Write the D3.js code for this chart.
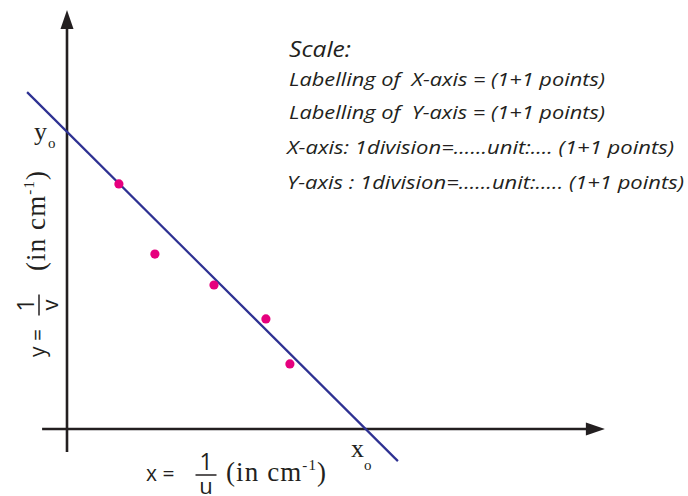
<!DOCTYPE html>
<html>
<head>
<meta charset="utf-8">
<script src="https://cdn.jsdelivr.net/npm/d3@7"></script>
<style>
  body { margin: 0; background: #fff; }
  svg { display: block; }
</style>
</head>
<body>
<div id="chart"></div>
<script>
// plotted readings (arbitrary graph units, 1 unit = 1 division)
var pointX = [1.73, 2.93, 4.90, 6.63, 7.43];
var pointY = [8.17, 5.83, 4.80, 3.67, 2.17];

// best fit straight line, drawn end to end
var fitX = [-1.33, 11.03];
var fitY = [11.23, -1.07];

// extent of the drawn axes
var xAxisExtent = [-0.83, 17.93];
var yAxisExtent = [-0.77, 13.97];

var scaleLines = [
  "Scale:",
  "Labelling of  X-axis = (1+1 points)",
  "Labelling of  Y-axis = (1+1 points)",
  "X-axis: 1division=......unit:.... (1+1 points)",
  "Y-axis : 1division=......unit:..... (1+1 points)"
];

(function() {
  var width = 688,
    height = 496;

  var svg = d3.select("#chart")
    .append("svg")
    .attr("width", width)
    .attr("height", height)

  var x = d3.scaleLinear().domain([0, 10]).range([67, 367])
  var y = d3.scaleLinear().domain([0, 10]).range([429, 129])

  var axisColor = "#231f20"

  // axes with arrow heads
  svg.append("line")
    .attr("x1", x(xAxisExtent[0])).attr("x2", x(xAxisExtent[1]) - 16)
    .attr("y1", y(0)).attr("y2", y(0))
    .attr("stroke", axisColor).attr("stroke-width", 2.6)

  svg.append("line")
    .attr("x1", x(0)).attr("x2", x(0))
    .attr("y1", y(yAxisExtent[0])).attr("y2", y(yAxisExtent[1]) + 16)
    .attr("stroke", axisColor).attr("stroke-width", 2.6)

  var xt = x(xAxisExtent[1]), yt = y(yAxisExtent[1])
  svg.append("path")
    .attr("d", "M" + xt + "," + y(0) + "L" + (xt - 19) + "," + (y(0) - 6.5) + "L" + (xt - 19) + "," + (y(0) + 6.5) + "Z")
    .attr("fill", axisColor)
  svg.append("path")
    .attr("d", "M" + x(0) + "," + yt + "L" + (x(0) - 6.5) + "," + (yt + 19) + "L" + (x(0) + 6.5) + "," + (yt + 19) + "Z")
    .attr("fill", axisColor)

  // fit line
  svg.append("line")
    .attr("x1", x(fitX[0])).attr("y1", y(fitY[0]))
    .attr("x2", x(fitX[1])).attr("y2", y(fitY[1]))
    .attr("stroke", "#2e3192")
    .attr("stroke-width", 2.2)

  // points
  var pts = pointX.map(function(d, i) { return {x: d, y: pointY[i]} })
  svg.selectAll(".pt")
    .data(pts)
    .enter().append("circle")
    .attr("class", "pt")
    .attr("cx", function(d) { return x(d.x) })
    .attr("cy", function(d) { return y(d.y) })
    .attr("r", 4.6)
    .attr("fill", "#e6007e")

  // scale notes
  var noteWidths = [62, 316, 316, 387, 397]
  var noteY = [57, 86, 119, 154, 189]
  svg.selectAll(".note")
    .data(scaleLines)
    .enter().append("text")
    .attr("class", "note")
    .attr("x", function(d, i) { return i < 3 ? 289 : 287 })
    .attr("y", function(d, i) { return noteY[i] })
    .attr("textLength", function(d, i) { return noteWidths[i] })
    .attr("lengthAdjust", "spacingAndGlyphs")
    .attr("font-family", "'Open Sans', sans-serif")
    .attr("font-style", "italic")
    .attr("font-size", function(d, i) { return i == 0 ? 22 : 19 })
    .attr("fill", "#231f20")
    .style("white-space", "pre")
    .text(function(d) { return d })

  var serif = "'Liberation Serif', 'DejaVu Serif', serif"
  var sans = "'Open Sans', sans-serif"

  // intercept labels
  svg.append("text").attr("x", 34).attr("y", 140)
    .attr("font-family", serif).attr("font-size", 26).attr("fill", axisColor).text("y")
  svg.append("text").attr("x", 48).attr("y", 148)
    .attr("font-family", serif).attr("font-size", 15).attr("fill", axisColor).text("o")
  svg.append("text").attr("x", 351).attr("y", 457)
    .attr("font-family", serif).attr("font-size", 26).attr("fill", axisColor).text("x")
  svg.append("text").attr("x", 364).attr("y", 470)
    .attr("font-family", serif).attr("font-size", 15).attr("fill", axisColor).text("o")

  // axis title builder: "v = 1/w (in cm-1)"
  function axisTitle(g, name, denom, fracX, parenX) {
    g.append("text").attr("x", 0).attr("y", 0)
      .attr("font-family", sans).attr("font-size", 21).attr("fill", axisColor)
      .style("white-space", "pre").text(name + " =")
    g.append("text").attr("x", fracX).attr("y", -11)
      .attr("font-family", sans).attr("font-size", 23).attr("fill", axisColor)
      .attr("text-anchor", "middle").text("1")
    g.append("line").attr("x1", fracX - 10.5).attr("x2", fracX + 10.5).attr("y1", -6).attr("y2", -6)
      .attr("stroke", axisColor).attr("stroke-width", 1.5)
    g.append("text").attr("x", fracX).attr("y", 13)
      .attr("font-family", sans).attr("font-size", 22).attr("fill", axisColor)
      .attr("text-anchor", "middle").text(denom)
    var t = g.append("text").attr("x", parenX).attr("y", 0)
      .attr("font-family", serif).attr("font-size", 27).attr("fill", axisColor)
      .attr("textLength", 100).attr("lengthAdjust", "spacing")
    t.append("tspan").text("(in cm")
    t.append("tspan").attr("font-size", 15).attr("dy", -11).text("-1")
    t.append("tspan").attr("dy", 11).text(")")
  }

  axisTitle(svg.append("g").attr("transform", "translate(146,481)"), "x", "u", 60, 80)
  axisTitle(svg.append("g").attr("transform", "translate(45,357) rotate(-90)"), "y", "v", 52, 86)
})();
</script>
</body>
</html>
